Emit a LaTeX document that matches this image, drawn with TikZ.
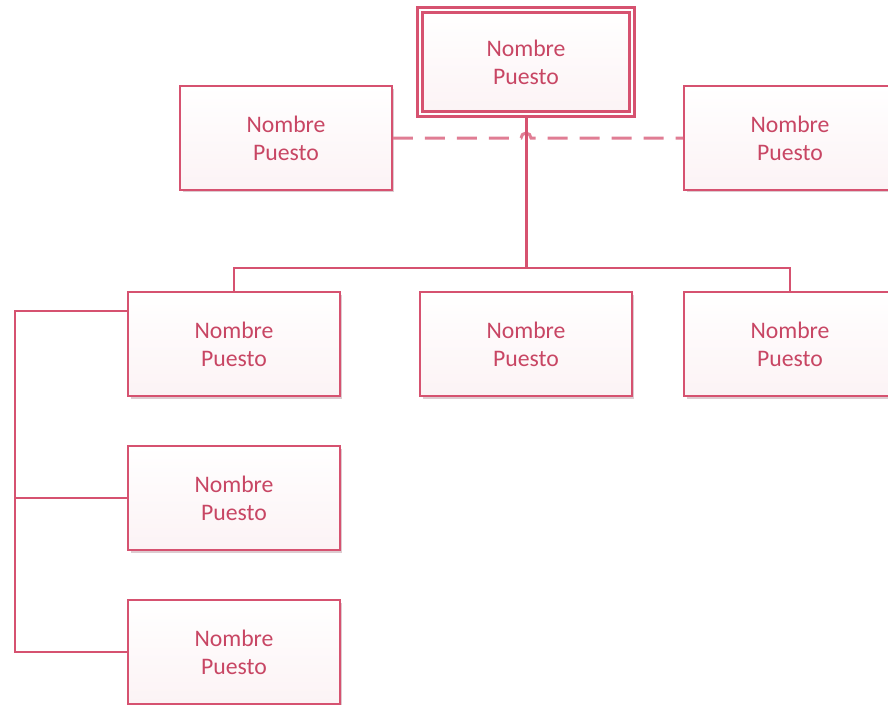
\documentclass[tikz,border=0pt]{standalone}
\usepackage{fontspec}
\setmainfont{Carlito}
\usetikzlibrary{calc,shadows}

\definecolor{borde}{RGB}{214,82,112}
\definecolor{letra}{RGB}{200,70,100}
\definecolor{sombra}{RGB}{180,140,150}

\begin{document}
\begin{tikzpicture}[x=0.02cm,y=-0.02cm,
  puesto/.style={rectangle,draw=borde,line width=1.1pt,
    top color=white,bottom color=borde!7,
    minimum width=4.24cm,minimum height=2.08cm,align=center,
    text=letra,font=\fontsize{13.5}{16}\selectfont,
    drop shadow={shadow xshift=0.05cm,shadow yshift=-0.05cm,opacity=0.45,fill=sombra}},
  jefe/.style={puesto,double=white,double distance=0.05cm,line width=1.3pt},
  linea/.style={draw=borde,line width=1.1pt},
  tronco/.style={draw=borde,line width=1.7pt},
  guion/.style={draw=borde!75,line width=1.7pt,dash pattern=on 0.4cm off 0.24cm}]

\useasboundingbox (0,0) rectangle (888,704);

% direccion y asistentes
\node[jefe] (top) at (526,62) {Nombre\\Puesto};
\node[puesto] (asisL) at (286,138) {Nombre\\Puesto};
\node[puesto] (asisR) at (790,138) {Nombre\\Puesto};

% primer nivel
\node[puesto] (dep1) at (234,344) {Nombre\\Puesto};
\node[puesto] (dep2) at (526,344) {Nombre\\Puesto};
\node[puesto] (dep3) at (790,344) {Nombre\\Puesto};

% columna izquierda
\node[puesto] (sub2) at (234,498) {Nombre\\Puesto};
\node[puesto] (sub3) at (234,652) {Nombre\\Puesto};

\coordinate (bar) at (526,268);
\coordinate (hop) at (top.south |- asisL.east);
\coordinate (k1) at (15,311);

\draw[guion] (asisL.east) -- ([xshift=-0.1cm]hop) arc[start angle=180,end angle=0,radius=0.1cm] -- (asisR.west);
\draw[tronco] (top.south) -- (bar);
\draw[linea] (dep1.north) |- (bar) -| (dep3.north);

\draw[linea] (k1 -| dep1.west) -- (k1) |- (sub3.west);
\draw[linea] (sub2.west) -- (sub2.west -| k1);

\end{tikzpicture}
\end{document}
